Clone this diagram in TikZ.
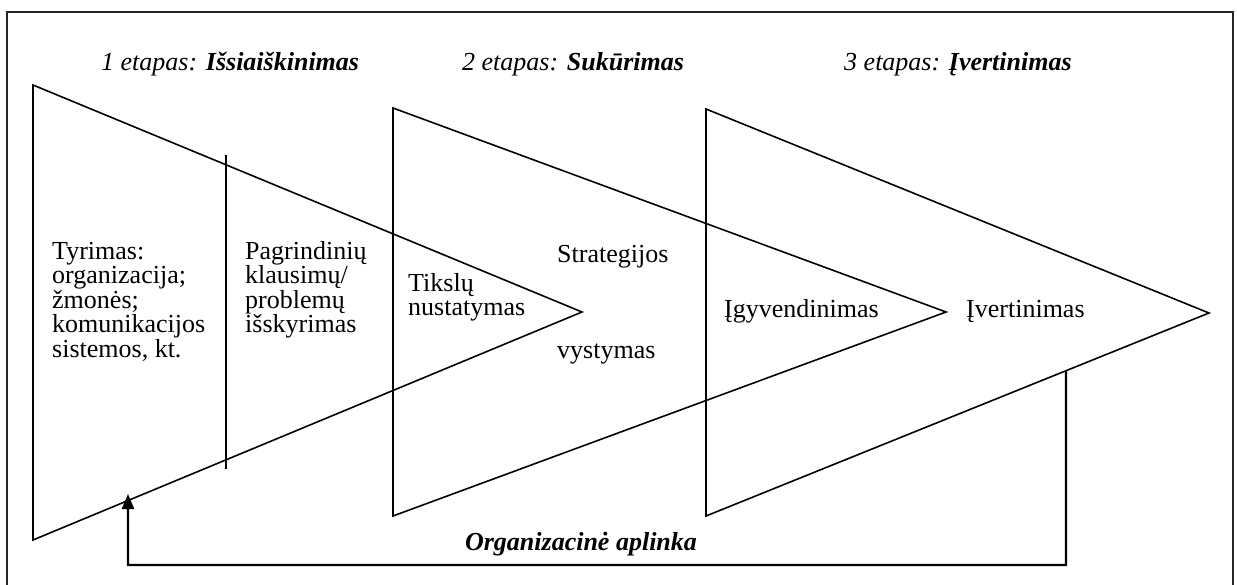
\documentclass[tikz,border=0pt]{standalone}
\usepackage{fontspec}
\setmainfont{Liberation Serif}
\usetikzlibrary{arrows.meta,calc}
\begin{document}
\begin{tikzpicture}[x=1pt,y=-1pt,
  wedge/.style={line width=1.6pt, line join=miter},
  frameline/.style={line width=2pt, draw=black!85},
  feedback/.style={line width=2.2pt, -{Triangle[width=12pt,length=15pt]}},
  body/.style={inner sep=0pt, anchor=base west, align=left,
    font=\fontsize{26}{24.5}\selectfont},
  stage/.style={inner sep=0pt, anchor=base west,
    font=\fontsize{26}{24.5}\selectfont\itshape},
  envlabel/.style={inner sep=0pt, anchor=base,
    font=\fontsize{26}{24.5}\selectfont\bfseries\itshape}]
\useasboundingbox (0,0) rectangle (1237,585);
\clip (0,0) rectangle (1237,585);

% outer frame (open at the bottom)
\draw[frameline] (7,600) -- (7,12) -- (1233,12) -- (1233,600);

% the three stage wedges
\coordinate (t1a) at (33,85);  \coordinate (t1b) at (33,540);  \coordinate (t1c) at (582,312);
\coordinate (t2a) at (393,108); \coordinate (t2b) at (393,516); \coordinate (t2c) at (946,312);
\coordinate (t3a) at (706,109); \coordinate (t3b) at (706,516); \coordinate (t3c) at (1209,313);
\draw[wedge] (t1a) -- (t1c) -- (t1b) -- cycle;
\draw[wedge] (t2a) -- (t2c) -- (t2b) -- cycle;
\draw[wedge] (t3a) -- (t3c) -- (t3b) -- cycle;

% divider inside the first wedge
\coordinate (d1) at (226,155); \coordinate (d2) at (226,469);
\draw[wedge] (d1) -- (d2);

% stage titles
\node[stage] (s1) at (101,71) {1 etapas: \textbf{Išsiaiškinimas}};
\node[stage] (s2) at (462,71) {2 etapas: \textbf{Sukūrimas}};
\node[stage] (s3) at (844,71) {3 etapas: \textbf{Įvertinimas}};

% step texts (multi-line nodes sit on the baseline of their last line)
\node[body] (research) at (52,357) {Tyrimas:\\organizacija;\\žmonės;\\komunikacijos\\sistemos, kt.};
\node[body] (issues) at (245,332.5) {Pagrindinių\\klausimų/\\problemų\\išskyrimas};
\node[body] (goals) at (408,316) {Tikslų\\nustatymas};
\node[body] (strat1) at (557,263) {Strategijos};
\node[body] (strat2) at (557,358) {vystymas};
\node[body] (impl) at (724,318) {Įgyvendinimas};
\node[body] (eval) at (966,318) {Įvertinimas};

% feedback loop through the organisational environment
\coordinate (fb) at ($(t3b)!0.7157!(t3c)$);
\coordinate (corner) at (1066,565);
\coordinate (fe) at (128,494);
\draw[feedback] (fb) -- (corner) -| (fe);
\node[envlabel] (env) at (581,550) {Organizacinė aplinka};
\end{tikzpicture}
\end{document}
